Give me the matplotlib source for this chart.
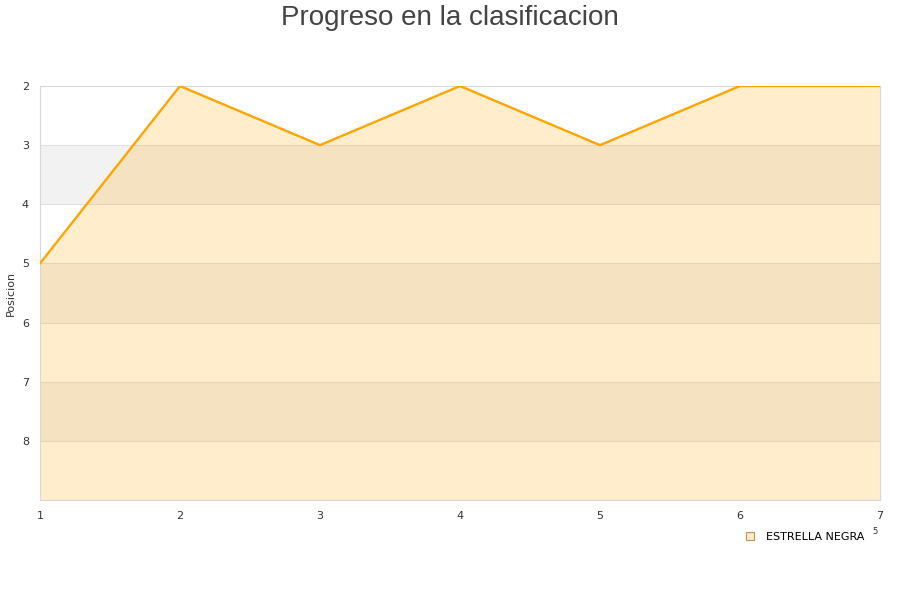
import matplotlib
matplotlib.use('Agg')
import matplotlib.pyplot as plt

jornadas = [1, 2, 3, 4, 5, 6, 7]
posicion = [5, 2, 3, 2, 3, 2, 2]
equipo = "ESTRELLA NEGRA"
y_ticks = [2, 3, 4, 5, 6, 7, 8]

fig = plt.figure(figsize=(9, 6), dpi=100)
ax = fig.add_axes([40/900, 100/600, 840/900, 414/600])

# alternating bands
for lo in [3, 5, 7]:
    ax.axhspan(lo, lo + 1, color='#f2f2f2', zorder=0, lw=0)
for y in range(3, 9):
    ax.axhline(y, color='#e0e0e0', lw=0.8, zorder=1)

ax.fill_between(jornadas, posicion, 9, color='#ffa500', alpha=0.2, lw=0, zorder=2)
ax.plot(jornadas, posicion, color='#ffa500', lw=1.7, zorder=3)

ax.set_xlim(1, 7)
ax.set_ylim(9, 2)
ax.set_xticks(jornadas)
ax.set_yticks(y_ticks)
ax.tick_params(length=0, labelsize=8, colors='#333333', pad=8)
for s in ax.spines.values():
    s.set_color('#d8d8d8')
ax.set_ylabel('Posicion', fontsize=8, color='#333333', labelpad=4)

fig.text(0.5, 0.991, 'Progreso en la clasificacion', ha='center', va='top',
         fontsize=20, color='#444444', family='Liberation Sans')

h = plt.Line2D([], [], marker='s', ls='', markersize=6,
               markerfacecolor='#ffeccc', markeredgecolor='#d09050', markeredgewidth=0.8)
fig.legend([h], [equipo], loc='center left', bbox_to_anchor=(0.81, 0.105),
           frameon=False, fontsize=8, handletextpad=0.4)
# small stray label next to the legend, as in the original
fig.text(875/900, 1 - 532/600, '5', ha='center', va='center', fontsize=6, color='#333333')

fig.savefig('out.png')
